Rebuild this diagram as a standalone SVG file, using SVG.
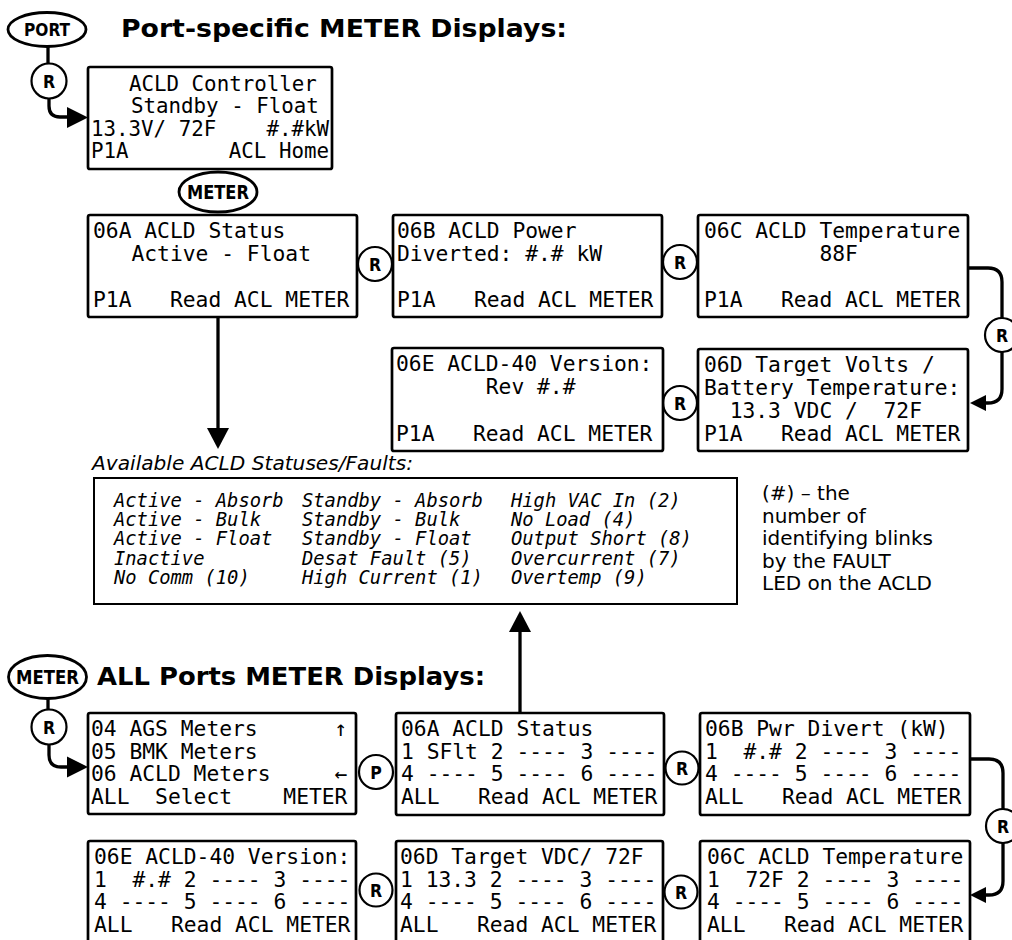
<svg xmlns="http://www.w3.org/2000/svg" width="1012" height="940" viewBox="0 0 1012 940" xml:space="preserve">
<style>
.box{fill:#fff;stroke:#000;stroke-width:2.7}
.mono{font-family:"DejaVu Sans Mono","Liberation Mono",monospace;font-size:21.3px;fill:#000;white-space:pre}
.mono2{font-family:"DejaVu Sans Mono","Liberation Mono",monospace;font-size:20.8px;fill:#000;white-space:pre}
.circ{fill:#fff;stroke:#000;stroke-width:2.2}
.oval{fill:#fff;stroke:#000;stroke-width:2.8}
.lbl{font-family:"DejaVu Sans Condensed","DejaVu Sans",sans-serif;font-stretch:condensed;font-weight:bold;text-anchor:middle;fill:#000}
.title{font-family:Verdana,"DejaVu Sans",sans-serif;font-weight:bold;font-size:24px;fill:#000}
.conn{fill:none;stroke:#000;stroke-width:3.3}
.stat{font-family:"DejaVu Sans Mono","Liberation Mono",monospace;font-style:italic;font-size:18.8px;fill:#000;white-space:pre}
.note{font-family:Verdana,"DejaVu Sans",sans-serif;font-size:20px;fill:#000}
</style>

<text class="title" x="121" y="37" textLength="446" lengthAdjust="spacingAndGlyphs">Port-specific METER Displays:</text>
<text class="title" x="97" y="685" textLength="388" lengthAdjust="spacingAndGlyphs">ALL Ports METER Displays:</text>

<g id="connectors">
<line class="conn" x1="48" y1="46" x2="48" y2="64"/>
<path class="conn" d="M49,99 V106 Q49,117 60,117 H70"/>
<polygon points="67,107 88,117.5 67,128"/>
<path class="conn" d="M968,268 H988 Q1002,268 1002,282 V318"/>
<path class="conn" d="M1002,352 V389 Q1002,403 988,403 H984"/>
<polygon points="970,403 986,395 986,411"/>
<line class="conn" x1="218" y1="318" x2="218" y2="430"/>
<polygon points="207,428 229,428 218,449"/>
<line class="conn" x1="48" y1="698" x2="48" y2="710"/>
<path class="conn" d="M49,744 V755 Q49,767 61,767 H70"/>
<polygon points="67,756.5 88,767 67,777.5"/>
<line class="conn" x1="520" y1="712" x2="520" y2="630"/>
<polygon points="509,632 531,632 520,611"/>
<path class="conn" d="M970,759 H989 Q1003,759 1003,773 V809"/>
<path class="conn" d="M1003,843 V881 Q1003,895 989,895 H984"/>
<polygon points="970,895 986,887 986,903"/>
</g>

<g id="port">
<ellipse class="oval" cx="47" cy="29.5" rx="39" ry="17"/>
<text class="lbl" x="47" y="36" font-size="17.5" textLength="46" lengthAdjust="spacingAndGlyphs">PORT</text>
</g>
<g id="r-port">
<circle class="circ" cx="49" cy="81" r="17.5"/>
<text class="lbl" x="49" y="87.5" font-size="17.5">R</text>
</g>

<g id="controller">
<rect class="box" x="88" y="67" width="244" height="102" rx="2"/>
<text class="mono2" x="129" y="91">ACLD Controller</text>
<text class="mono2" x="131" y="113">Standby - Float</text>
<text class="mono2" x="91" y="136">13.3V/ 72F</text>
<text class="mono2" x="329" y="136" text-anchor="end">#.#kW</text>
<text class="mono2" x="91" y="158">P1A</text>
<text class="mono2" x="329" y="158" text-anchor="end">ACL Home</text>
</g>

<g id="meter-top">
<ellipse class="oval" cx="218" cy="192" rx="39" ry="20"/>
<text class="lbl" x="218" y="199" font-size="19" textLength="62" lengthAdjust="spacingAndGlyphs">METER</text>
</g>

<g id="s06A">
<rect class="box" x="88" y="215" width="269" height="102" rx="2"/>
<text class="mono" x="93" y="238">06A ACLD Status</text>
<text class="mono" x="93" y="261">   Active - Float</text>
<text class="mono" x="93" y="307">P1A   Read ACL METER</text>
</g>
<g id="r1"><circle class="circ" cx="375" cy="264" r="17"/><text class="lbl" x="375" y="270.5" font-size="17.5">R</text></g>
<g id="s06B">
<rect class="box" x="393" y="215" width="269" height="102" rx="2"/>
<text class="mono" x="397" y="238">06B ACLD Power</text>
<text class="mono" x="397" y="261">Diverted: #.# kW</text>
<text class="mono" x="397" y="307">P1A   Read ACL METER</text>
</g>
<g id="r2"><circle class="circ" cx="680" cy="262" r="17"/><text class="lbl" x="680" y="268.5" font-size="17.5">R</text></g>
<g id="s06C">
<rect class="box" x="698" y="215" width="270" height="102" rx="2"/>
<text class="mono" x="704" y="238">06C ACLD Temperature</text>
<text class="mono" x="704" y="261">         88F</text>
<text class="mono" x="704" y="307">P1A   Read ACL METER</text>
</g>
<g id="r3"><circle class="circ" cx="1002" cy="335" r="17"/><text class="lbl" x="1002" y="341.5" font-size="17.5">R</text></g>
<g id="s06D">
<rect class="box" x="698" y="349" width="270" height="102" rx="2"/>
<text class="mono" x="704" y="372">06D Target Volts /</text>
<text class="mono" x="704" y="395">Battery Temperature:</text>
<text class="mono" x="704" y="418">  13.3 VDC /  72F</text>
<text class="mono" x="704" y="441">P1A   Read ACL METER</text>
</g>
<g id="r4"><circle class="circ" cx="680" cy="403" r="17"/><text class="lbl" x="680" y="409.5" font-size="17.5">R</text></g>
<g id="s06E">
<rect class="box" x="392" y="348" width="271" height="103" rx="2"/>
<text class="mono" x="396" y="371">06E ACLD-40 Version:</text>
<text class="mono" x="396" y="394">       Rev #.#</text>
<text class="mono" x="396" y="441">P1A   Read ACL METER</text>
</g>

<text class="note" x="92" y="470" font-style="italic" font-size="19" textLength="321" lengthAdjust="spacingAndGlyphs">Available ACLD Statuses/Faults:</text>

<g id="statuses">
<rect x="94" y="478" width="643" height="126" fill="#fff" stroke="#000" stroke-width="2"/>
<text class="stat" x="114" y="506.5">Active - Absorb</text>
<text class="stat" x="114" y="525.9">Active - Bulk</text>
<text class="stat" x="114" y="545.3">Active - Float</text>
<text class="stat" x="114" y="564.7">Inactive</text>
<text class="stat" x="114" y="584.1">No Comm (10)</text>
<text class="stat" x="302" y="506.5">Standby - Absorb</text>
<text class="stat" x="302" y="525.9">Standby - Bulk</text>
<text class="stat" x="302" y="545.3">Standby - Float</text>
<text class="stat" x="302" y="564.7">Desat Fault (5)</text>
<text class="stat" x="302" y="584.1">High Current (1)</text>
<text class="stat" x="511" y="506.5">High VAC In (2)</text>
<text class="stat" x="511" y="525.9">No Load (4)</text>
<text class="stat" x="511" y="545.3">Output Short (8)</text>
<text class="stat" x="511" y="564.7">Overcurrent (7)</text>
<text class="stat" x="511" y="584.1">Overtemp (9)</text>
</g>

<g id="note">
<text class="note" x="762" y="500">(#) – the</text>
<text class="note" x="762" y="522.6">number of</text>
<text class="note" x="762" y="545.2">identifying blinks</text>
<text class="note" x="762" y="567.8">by the FAULT</text>
<text class="note" x="762" y="590.4">LED on the ACLD</text>
</g>

<g id="meter-all">
<ellipse class="oval" cx="47.5" cy="677" rx="39" ry="21.5"/>
<text class="lbl" x="47.5" y="684" font-size="19" textLength="63" lengthAdjust="spacingAndGlyphs">METER</text>
</g>
<g id="r-all"><circle class="circ" cx="49" cy="727" r="17.5"/><text class="lbl" x="49" y="733.5" font-size="17.5">R</text></g>

<g id="menu">
<rect class="box" x="88" y="713" width="268" height="101" rx="2"/>
<text class="mono" x="91" y="736">04 AGS Meters      ↑</text>
<text class="mono" x="91" y="758.7">05 BMK Meters</text>
<text class="mono" x="91" y="781.4">06 ACLD Meters     ←</text>
<text class="mono" x="91" y="804">ALL  Select    METER</text>
</g>
<g id="p1"><circle class="circ" cx="376" cy="772" r="17"/><text class="lbl" x="376" y="778.5" font-size="17.5">P</text></g>
<g id="a06A">
<rect class="box" x="396" y="713" width="268" height="102" rx="2"/>
<text class="mono" x="401" y="736">06A ACLD Status</text>
<text class="mono" x="401" y="758.7">1 SFlt 2 ---- 3 ----</text>
<text class="mono" x="401" y="781.4">4 ---- 5 ---- 6 ----</text>
<text class="mono" x="401" y="804">ALL   Read ACL METER</text>
</g>
<g id="r5"><circle class="circ" cx="682" cy="768" r="16.5"/><text class="lbl" x="682" y="774.5" font-size="17.5">R</text></g>
<g id="a06B">
<rect class="box" x="700" y="713" width="270" height="102" rx="2"/>
<text class="mono" x="705" y="736">06B Pwr Divert (kW)</text>
<text class="mono" x="705" y="758.7">1  #.# 2 ---- 3 ----</text>
<text class="mono" x="705" y="781.4">4 ---- 5 ---- 6 ----</text>
<text class="mono" x="705" y="804">ALL   Read ACL METER</text>
</g>
<g id="r6"><circle class="circ" cx="1003" cy="826" r="17"/><text class="lbl" x="1003" y="832.5" font-size="17.5">R</text></g>
<g id="a06C">
<rect class="box" x="700" y="841" width="270" height="104" rx="2"/>
<text class="mono" x="707" y="864">06C ACLD Temperature</text>
<text class="mono" x="707" y="886.7">1  72F 2 ---- 3 ----</text>
<text class="mono" x="707" y="909.4">4 ---- 5 ---- 6 ----</text>
<text class="mono" x="707" y="932">ALL   Read ACL METER</text>
</g>
<g id="r7"><circle class="circ" cx="681" cy="892" r="16.5"/><text class="lbl" x="681" y="898.5" font-size="17.5">R</text></g>
<g id="a06D">
<rect class="box" x="396" y="841" width="267" height="104" rx="2"/>
<text class="mono" x="400" y="864">06D Target VDC/ 72F</text>
<text class="mono" x="400" y="886.7">1 13.3 2 ---- 3 ----</text>
<text class="mono" x="400" y="909.4">4 ---- 5 ---- 6 ----</text>
<text class="mono" x="400" y="932">ALL   Read ACL METER</text>
</g>
<g id="r8"><circle class="circ" cx="376" cy="890" r="16.5"/><text class="lbl" x="376" y="896.5" font-size="17.5">R</text></g>
<g id="a06E">
<rect class="box" x="88" y="841" width="268" height="104" rx="2"/>
<text class="mono" x="94" y="864">06E ACLD-40 Version:</text>
<text class="mono" x="94" y="886.7">1  #.# 2 ---- 3 ----</text>
<text class="mono" x="94" y="909.4">4 ---- 5 ---- 6 ----</text>
<text class="mono" x="94" y="932">ALL   Read ACL METER</text>
</g>
</svg>
